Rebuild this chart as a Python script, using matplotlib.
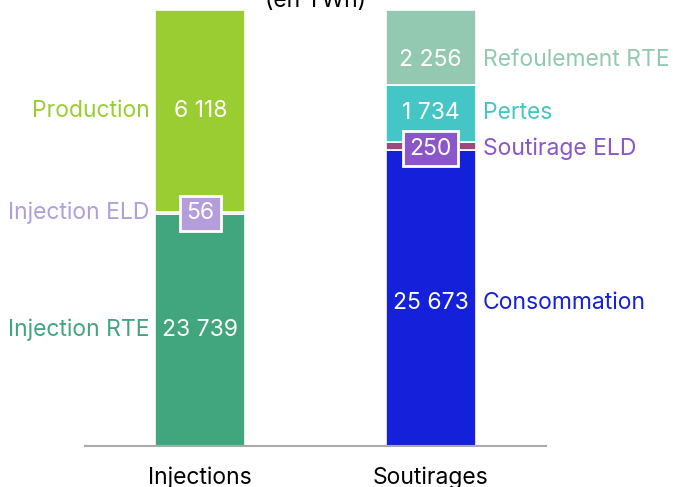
import matplotlib.pyplot as plt

categories = ['Injections', 'Soutirages']

inj_labels = ['Injection RTE', 'Injection ELD', 'Production']
inj_values = [23739, 56, 6118]
inj_colors = ['#41a67e', '#b39ddb', '#9acd32']

sout_labels = ['Consommation', 'Soutirage ELD', 'Pertes', 'Refoulement RTE']
sout_values = [25673, 250, 1734, 2256]
sout_colors = ['#1420d9', '#9c4a7c', '#45c6c6', '#93c9b0']
sout_text_colors = ['#1420d9', '#8a56c9', '#45c6c6', '#93c9b0']

title = '(en TWh)'
y_start = 16720          # axis is cut, bars start far below the visible part
small_limit = 500        # values under this get a boxed label

plt.rcParams['font.family'] = ['Inter', 'DejaVu Sans']
fs = 16.5

fig = plt.figure(figsize=(6.73, 4.87), dpi=100)
ax = fig.add_axes([85 / 673, 41 / 487, 461 / 673, 436 / 487])

width = 0.39
total = sum(inj_values)


def fmt(v):
    return f'{v:,}'.replace(',', ' ')


def stack(x, values, colors, labels, text_colors, side, nudges):
    bottom = 0
    for v, c, lab, tc, nd in zip(values, colors, labels, text_colors, nudges):
        ax.bar(x, v, width, bottom=bottom, color=c, edgecolor='white', linewidth=1.2)
        top = bottom + v
        ymid = (max(bottom, y_start) + top) / 2 + nd
        if v < small_limit:
            ax.text(x, ymid, fmt(v), ha='center', va='center', color='white', fontsize=fs,
                    bbox=dict(boxstyle='square,pad=0.28', fc=tc, ec='white', lw=2))
        else:
            ax.text(x, ymid, fmt(v), ha='center', va='center', color='white', fontsize=fs)
        if side == 'left':
            ax.annotate(lab, (x - width / 2, ymid), xytext=(-4, 0), textcoords='offset points',
                        ha='right', va='center', color=tc, fontsize=fs)
        else:
            ax.annotate(lab, (x + width / 2, ymid), xytext=(5, 0), textcoords='offset points',
                        ha='left', va='center', color=tc, fontsize=fs)
        bottom = top


stack(0, inj_values, inj_colors, inj_labels, inj_colors, 'left', [0, 0, 0])
stack(1, sout_values, sout_colors, sout_labels, sout_text_colors, 'right', [-150, -80, 0, -400])

ax.set_xlim(-0.5, 1.5)
ax.set_ylim(y_start, total)
ax.set_xticks([0, 1])
ax.set_xticklabels(categories, fontsize=fs)
ax.tick_params(axis='x', length=0, pad=15)
ax.set_yticks([])
for s in ['top', 'right', 'left']:
    ax.spines[s].set_visible(False)
ax.spines['bottom'].set_color('#aaaaaa')
ax.spines['bottom'].set_linewidth(1.5)

fig.text(315.5 / 673, 1 - 7 / 487, title, ha='center', va='baseline', fontsize=fs)

fig.savefig('out.png', dpi=100)
